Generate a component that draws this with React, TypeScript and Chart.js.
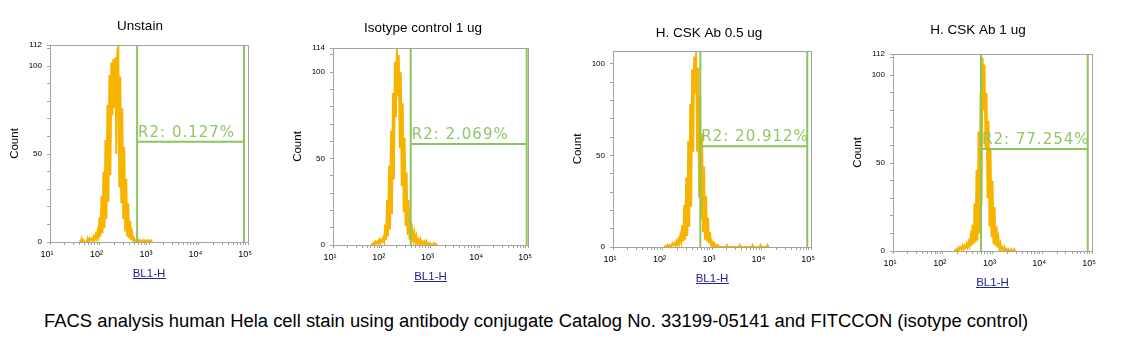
import { useEffect, useRef } from 'react';
import { Chart, registerables } from 'chart.js';

Chart.register(...registerables);

// ---------- data ----------
const panelTitles = ['Unstain', 'Isotype control 1 ug', 'H. CSK Ab 0.5 ug', 'H. CSK Ab 1 ug'];
const xAxisTitle = 'BL1-H';
const yAxisTitle = 'Count';
const captionText =
  'FACS analysis human Hela cell stain using antibody conjugate Catalog No. 33199-05141 and FITCCON (isotype control)';

// histogram channels: one bin every 0.02 decade, starting at the given log10 position
const binStepLog = 0.02;

const unstainStartLog = 1.6;
const unstainCounts = [
  1, 0, 2, 0, 1, 0, 0, 0, 2, 0,
  2, 1, 2, 1, 3, 1, 4, 2, 6, 3,
  14, 3, 26, 5, 40, 8, 58, 13, 78, 23,
  95, 38, 102, 72, 104, 76, 105, 50, 108, 112,
  31, 94, 22, 76, 13, 54, 6, 36, 3, 22,
  2, 12, 1, 5, 1, 2, 0, 1, 0, 1,
  0, 1, 0, 0, 1, 0, 1, 0, 0, 1,
  0, 0, 1, 0,
];

const isotypeStartLog = 1.79;
const isotypeCounts = [
  1, 0, 1, 0, 2, 1, 2, 1, 3, 1,
  3, 2, 4, 2, 12, 3, 26, 5, 46, 9,
  66, 18, 88, 38, 106, 74, 114, 86, 110, 56,
  100, 34, 82, 19, 62, 11, 42, 6, 26, 3,
  14, 2, 8, 3, 7, 2, 5, 1, 3, 1,
  3, 0, 2, 1, 2, 0, 2, 0, 1, 0,
  1, 0, 0, 0, 1, 0, 0, 1,
];

const csk05StartLog = 2.04;
const csk05Counts = [
  1, 0, 0, 1, 0, 1, 0, 1, 2, 1,
  2, 1, 3, 1, 4, 2, 6, 3, 12, 3,
  23, 4, 38, 6, 58, 11, 78, 22, 97, 52,
  104, 84, 107, 52, 98, 27, 82, 15, 62, 8,
  44, 4, 28, 3, 16, 2, 8, 1, 3, 1,
  2, 0, 1, 0, 1, 0, 0, 0, 0, 0,
  0, 0, 0, 1, 0, 0, 0, 0, 0, 0,
  0, 0, 0, 0, 0, 0, 1, 0, 0, 0,
  0, 0, 0, 0, 0, 0, 0, 0, 0, 1,
  0, 0, 0, 0, 0, 0, 0, 1, 0, 0,
  0, 0, 0, 0, 1, 0, 0,
];

const csk1StartLog = 2.24;
const csk1Counts = [
  1, 0, 1, 0, 2, 1, 2, 1, 3, 1,
  3, 2, 4, 2, 5, 3, 8, 3, 15, 4,
  27, 5, 46, 6, 68, 10, 90, 26, 110, 80,
  106, 58, 90, 30, 74, 14, 58, 8, 40, 4,
  25, 3, 14, 2, 7, 1, 4, 1, 2, 0,
  2, 0, 1, 0, 1, 0, 0, 1, 0, 0,
  1, 0,
];

// R2 gate (x from start to end, horizontal bar at level)
const gateStarts = [575, 393, 581, 587];
const gateEnds = [83000, 94000, 84000, 82000];
const gateLevels = [57, 58.5, 55, 58];
const gateLabels = ['R2: 0.127%', 'R2: 2.069%', 'R2: 20.912%', 'R2: 77.254%'];

// count axes
const countMaxima = [112, 114, 107, 112];
const countTickLabels = [
  [0, 50, 100, 112],
  [0, 50, 100, 114],
  [0, 50, 100],
  [0, 50, 100, 112],
];
const countMinorStep = 10;

// fluorescence axis
const xMin = 10;
const xMax = 100000;
const decadeValues = [10, 100, 1000, 10000, 100000];
const decadeLabels = ['10\u00b9', '10\u00b2', '10\u00b3', '10\u2074', '10\u2075'];

// ---------- layout & style (not data) ----------
const panelBoxes = [
  { l: 50, r: 248, t: 45, b: 242, tx: 140, ty: 26 },
  { l: 333, r: 528, t: 48, b: 245, tx: 423, ty: 28 },
  { l: 613, r: 811, t: 51, b: 247, tx: 709, ty: 33 },
  { l: 893, r: 1092, t: 54, b: 251, tx: 978, ty: 30 },
];
const PAD_L = 50;
const PAD_T = 45;
const EXTRA_W = 90;
const EXTRA_H = 100;
const Y_AXIS_W = 40;
const X_AXIS_H = 20;

const AXIS_GRAY = '#a3a3a3';
const HIST_COLOR = '#f6b400';
const GATE_COLOR = '#8cc55c';
const GATE_TEXT = '#8fc766';
const LABEL_BLUE = '#23238c';
const SANS = '"Liberation Sans", Arial, sans-serif';

const panelStarts = [unstainStartLog, isotypeStartLog, csk05StartLog, csk1StartLog];
const panelCounts = [unstainCounts, isotypeCounts, csk05Counts, csk1Counts];

const xTickValues: number[] = [];
for (const d of [10, 100, 1000, 10000]) {
  for (let m = 1; m <= 9; m++) xTickValues.push(d * m);
}
xTickValues.push(100000);

function FacsPanel({ index }: { index: number }) {
  const ref = useRef<HTMLCanvasElement>(null);
  const box = panelBoxes[index];
  const width = box.r - box.l + EXTRA_W;
  const height = box.b - box.t + EXTRA_H;
  const canvasLeft = box.l - PAD_L;
  const canvasTop = box.t - PAD_T;

  useEffect(() => {
    const canvas = ref.current;
    if (!canvas) return;
    const start = panelStarts[index];
    const counts = panelCounts[index];
    const yMax = countMaxima[index];
    const yLabels = countTickLabels[index];
    const gStart = gateStarts[index];
    const gEnd = gateEnds[index];
    const gLevel = gateLevels[index];

    const histogram = counts.map((c, i) => ({ x: Math.pow(10, start + i * binStepLog), y: c }));
    const gate = [
      { x: gStart, y: 0 },
      { x: gStart, y: yMax },
      { x: gStart, y: null },
      { x: gEnd, y: 0 },
      { x: gEnd, y: yMax },
      { x: gEnd, y: null },
      { x: gStart, y: gLevel },
      { x: gEnd, y: gLevel },
    ];

    const yTicks: number[] = [];
    for (let v = 0; v <= yMax; v += countMinorStep) yTicks.push(v);
    for (const v of yLabels) if (!yTicks.includes(v)) yTicks.push(v);
    yTicks.sort((a, b) => a - b);

    const decor = {
      id: 'facsDecor',
      afterDatasetsDraw(chart: any) {
        const { ctx, chartArea, scales } = chart;
        ctx.save();
        // frame top and right
        ctx.strokeStyle = AXIS_GRAY;
        ctx.lineWidth = 1;
        ctx.beginPath();
        ctx.moveTo(chartArea.left, chartArea.top + 0.5);
        ctx.lineTo(chartArea.right + 1, chartArea.top + 0.5);
        ctx.moveTo(chartArea.right + 0.5, chartArea.top);
        ctx.lineTo(chartArea.right + 0.5, chartArea.bottom + 1);
        ctx.stroke();
        // gate label
        const gx = scales.x.getPixelForValue(gStart);
        const gy = scales.y.getPixelForValue(gLevel);
        ctx.fillStyle = GATE_TEXT;
        ctx.font = '15px "DejaVu Sans", Verdana, sans-serif';
        (ctx as any).letterSpacing = '1px';
        ctx.textAlign = 'left';
        ctx.textBaseline = 'alphabetic';
        ctx.fillText(gateLabels[index], gx + 1, gy - 5);
        (ctx as any).letterSpacing = '0px';
        ctx.restore();
      },
      afterDraw(chart: any) {
        const { ctx, chartArea } = chart;
        ctx.save();
        // title
        ctx.fillStyle = '#000';
        ctx.font = `13.5px ${SANS}`;
        ctx.textAlign = 'center';
        ctx.textBaseline = 'middle';
        ctx.fillText(panelTitles[index], box.tx - canvasLeft, box.ty - canvasTop);
        // y title
        ctx.save();
        ctx.translate(chartArea.left - 35, (chartArea.top + chartArea.bottom) / 2);
        ctx.rotate(-Math.PI / 2);
        ctx.font = `11.5px ${SANS}`;
        ctx.fillText(yAxisTitle, 0, 0);
        ctx.restore();
        // x title, underlined
        const cx = (chartArea.left + chartArea.right) / 2;
        const base = chartArea.bottom + 35;
        ctx.font = `11.5px ${SANS}`;
        ctx.fillStyle = LABEL_BLUE;
        ctx.textBaseline = 'alphabetic';
        ctx.fillText(xAxisTitle, cx, base);
        const w = ctx.measureText(xAxisTitle).width;
        ctx.fillRect(Math.round(cx - w / 2), base + 1, Math.round(w), 1);
        ctx.restore();
      },
    };

    const chart = new Chart(canvas, {
      type: 'line',
      data: {
        datasets: [
          {
            data: gate as any,
            borderColor: GATE_COLOR,
            borderWidth: 2,
            pointRadius: 0,
            tension: 0,
            spanGaps: false,
            order: 0,
          },
          {
            data: histogram,
            borderColor: HIST_COLOR,
            borderWidth: 2,
            pointRadius: 0,
            tension: 0,
            order: 1,
          },
        ],
      },
      options: {
        responsive: false,
        animation: false,
        events: [],
        layout: {
          padding: {
            left: PAD_L - Y_AXIS_W,
            top: PAD_T,
            right: EXTRA_W - PAD_L,
            bottom: EXTRA_H - PAD_T - X_AXIS_H,
          },
        },
        plugins: {
          legend: { display: false },
          tooltip: { enabled: false },
          title: { display: false },
        },
        scales: {
          x: {
            type: 'logarithmic',
            min: xMin,
            max: xMax,
            afterBuildTicks: (s: any) => {
              s.ticks = xTickValues.map((v) => ({ value: v }));
            },
            afterFit: (s: any) => {
              s.height = X_AXIS_H;
            },
            grid: { drawOnChartArea: false, drawTicks: true, tickLength: 3, color: AXIS_GRAY },
            border: { color: AXIS_GRAY },
            ticks: {
              autoSkip: false,
              maxRotation: 0,
              padding: 4,
              labelOffset: -3,
              color: '#000',
              font: { family: SANS, size: 9 },
              callback: (v: any) => {
                const k = decadeValues.findIndex((d) => Math.abs(d - Number(v)) < 1e-6 * d);
                return k >= 0 ? decadeLabels[k] : '';
              },
            },
          },
          y: {
            type: 'linear',
            min: 0,
            max: yMax,
            afterBuildTicks: (s: any) => {
              s.ticks = yTicks.map((v) => ({ value: v }));
            },
            afterFit: (s: any) => {
              s.width = Y_AXIS_W;
            },
            grid: { drawOnChartArea: false, drawTicks: true, tickLength: 3, color: AXIS_GRAY },
            border: { color: AXIS_GRAY },
            ticks: {
              padding: 5,
              color: '#000',
              font: { family: SANS, size: 8 },
              callback: (v: any) => (yLabels.includes(Number(v)) ? String(v) : ''),
            },
          },
        },
      },
      plugins: [decor],
    });
    return () => chart.destroy();
  }, [index]);

  return (
    <canvas
      ref={ref}
      width={width}
      height={height}
      style={{ position: 'absolute', left: canvasLeft, top: canvasTop, width, height }}
    />
  );
}

export default function App() {
  return (
    <div
      style={{
        position: 'absolute',
        left: 0,
        top: 0,
        width: 1130,
        height: 362,
        background: '#fff',
        overflow: 'hidden',
      }}
    >
      {panelTitles.map((_, i) => (
        <FacsPanel key={i} index={i} />
      ))}
      <div
        style={{
          position: 'absolute',
          left: 44,
          top: 310,
          fontFamily: SANS,
          fontSize: '18.42px',
          lineHeight: '22px',
          color: '#000',
          whiteSpace: 'nowrap',
        }}
      >
        {captionText}
      </div>
    </div>
  );
}
